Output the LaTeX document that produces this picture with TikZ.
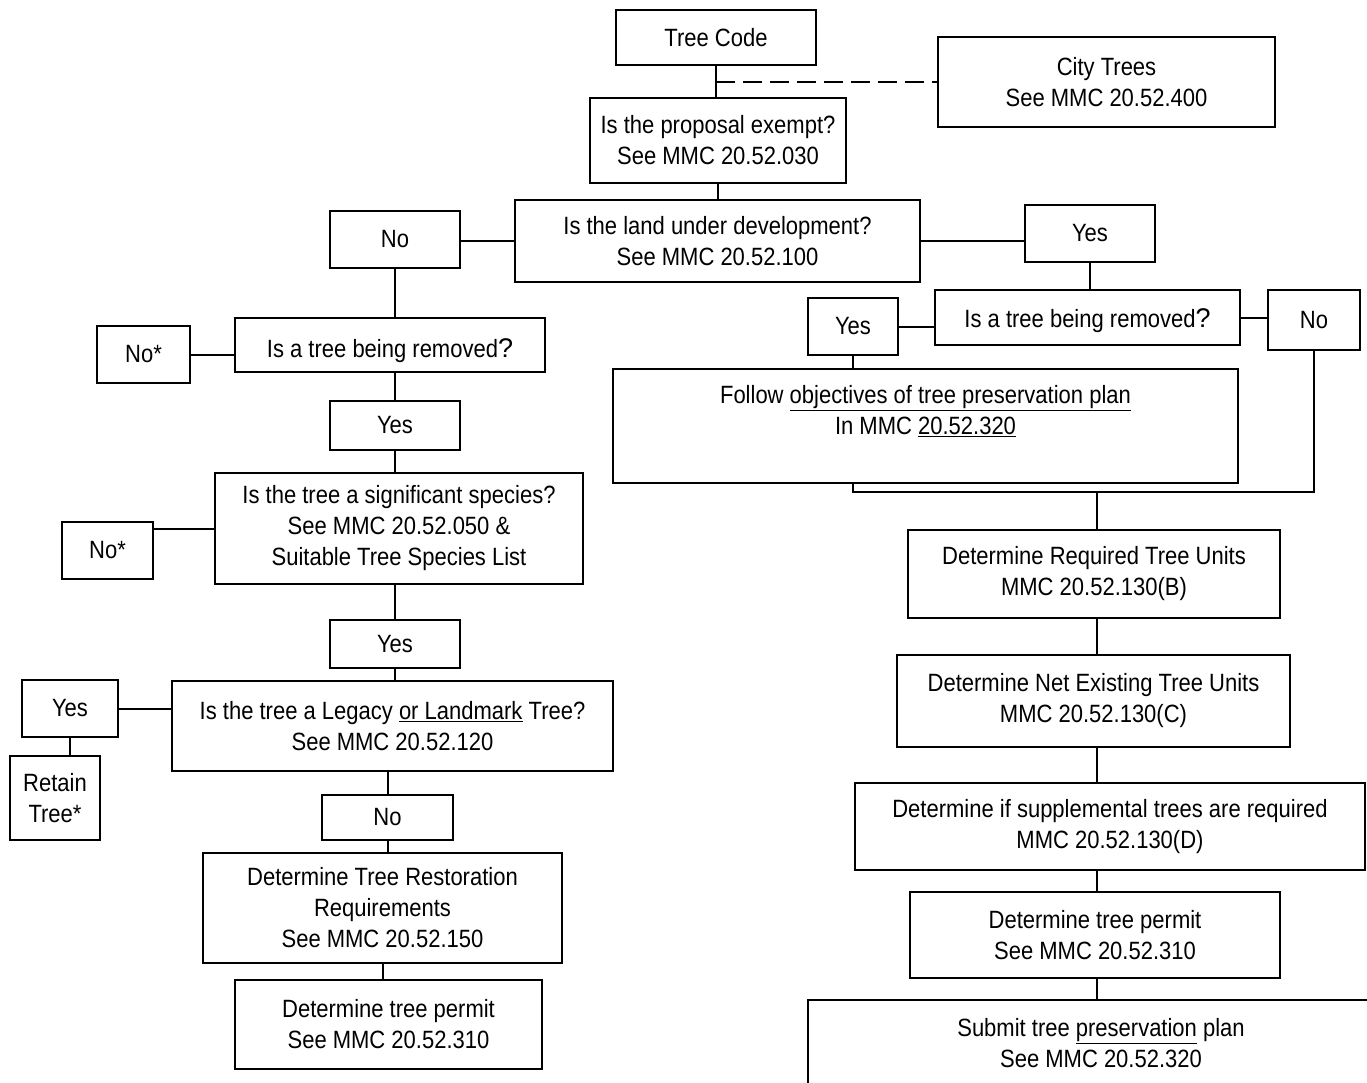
\documentclass[tikz,border=0pt]{standalone}
\usepackage{fontspec}
\setmainfont[FakeStretch=0.88]{Liberation Sans}
\newfontfamily\qmarkfont{Liberation Sans}
% wider question mark used in the "being removed" boxes
\newcommand{\qmk}{{\qmarkfont\fontsize{27}{31}\selectfont ?}}

\begin{document}
\begin{tikzpicture}[x=1pt,y=-1pt]
\tikzset{
  box/.style={draw=black, line width=2pt, inner sep=0pt, align=center,
              font=\fontsize{25}{31}\selectfont},
  txt/.style={inner sep=0pt, align=center, font=\fontsize{25}{31}\selectfont},
  link/.style={line width=2pt},
  dlink/.style={line width=2pt, dash pattern=on 19pt off 8pt},
}
\useasboundingbox (0,0) rectangle (1367,1083);
\clip (0,0) rectangle (1367,1083);

% ---- top of the chart ----
\node[box, minimum width=200, minimum height=55] (tc) at (716,38) {Tree Code};
\node[box, minimum width=337, minimum height=90] (city) at (1106.5,82)
  {City Trees\\See MMC 20.52.400};
\node[box, minimum width=256, minimum height=85] (exempt) at (718,140.5)
  {Is the proposal exempt?\\See MMC 20.52.030};
\node[box, minimum width=405, minimum height=82] (land) at (717.5,241)
  {Is the land under development?\\See MMC 20.52.100};
\node[box, minimum width=130, minimum height=57] (noL) at (395,239.5) {No};
\node[box, minimum width=130, minimum height=57] (yesR) at (1090,233.5) {Yes};

% ---- right branch: land under development ----
\node[box, minimum width=305, minimum height=55] (removeR) at (1087.5,317.5)
  {\raisebox{-3pt}[\height][\depth]{Is a tree being removed\qmk}};
\node[box, minimum width=90, minimum height=57] (yesR2) at (853,326.5) {Yes};
\node[box, minimum width=92, minimum height=60] (noR) at (1314,320) {No};
\node[box, minimum width=625, minimum height=114] (follow) at (925.5,426) {};
\node[txt] (followtxt) at (925.5,411)
  {Follow \underline{objectives of tree preservation plan}\\In MMC \underline{20.52.320}};
\coordinate (jn) at (1097,492);
\node[box, minimum width=372, minimum height=88] (req) at (1094,574)
  {Determine Required Tree Units\\MMC 20.52.130(B)};
\node[box, minimum width=393, minimum height=92] (net) at (1093.5,701)
  {Determine Net Existing Tree Units\\MMC 20.52.130(C)};
\node[box, minimum width=510, minimum height=87] (supp) at (1110,826.5)
  {Determine if supplemental trees are required\\MMC 20.52.130(D)};
\node[box, minimum width=370, minimum height=86] (permitR) at (1095,935)
  {Determine tree permit\\See MMC 20.52.310};
\node[box, minimum width=612, minimum height=110] (submit) at (1114,1055) {};
\node[txt] (submittxt) at (1101,1043)
  {Submit tree \underline{preservation} plan\\See MMC 20.52.320};

% ---- left branch: land not under development ----
\node[box, minimum width=310, minimum height=54] (removeL) at (390,345)
  {\raisebox{-6pt}[\height][\depth]{Is a tree being removed\qmk}};
\node[box, minimum width=93, minimum height=57] (noStarA) at (143.5,354.5) {No*};
\node[box, minimum width=130, minimum height=49] (yesL1) at (395,425.5) {Yes};
\node[box, minimum width=368, minimum height=111] (sig) at (399,528.5)
  {Is the tree a significant species?\\See MMC 20.52.050 \&\\Suitable Tree Species List};
\node[box, minimum width=91, minimum height=57] (noStarB) at (107.5,550.5) {No*};
\node[box, minimum width=130, minimum height=48] (yesL2) at (395,644) {Yes};
\node[box, minimum width=441, minimum height=90] (legacy) at (392.5,726)
  {Is the tree a Legacy \underline{or Landmark} Tree?\\See MMC 20.52.120};
\node[box, minimum width=96, minimum height=57] (yesL3) at (70,708.5) {Yes};
\node[box, minimum width=90, minimum height=84] (retain) at (55,798) {Retain\\Tree*};
\node[box, minimum width=131, minimum height=45] (noL2) at (387.5,817.5) {No};
\node[box, minimum width=359, minimum height=110] (restore) at (382.5,908)
  {Determine Tree Restoration\\Requirements\\See MMC 20.52.150};
\node[box, minimum width=307, minimum height=89] (permitL) at (388.5,1024.5)
  {Determine tree permit\\See MMC 20.52.310};

% ---- connectors ----
\coordinate (dj) at (tc.south |- city.west);
\draw[link] (tc.south) -- (tc.south |- exempt.north);
\draw[dlink] (dj) -- (city.west);
\draw[link] (exempt.south) -- (exempt.south |- land.north);
\draw[link] (land.west) -- (land.west -| noL.east);
\draw[link] (land.east) -- (land.east -| yesR.west);
\draw[link] (yesR.south) -- (yesR.south |- removeR.north);
\draw[link] (yesR2.east) -- (yesR2.east -| removeR.west);
\draw[link] (removeR.east) -- (removeR.east -| noR.west);
\draw[link] (yesR2.south) -- (yesR2.south |- follow.north);
\draw[link] (yesR2.south |- follow.south) |- (noR.south |- jn) -- (noR.south);
\draw[link] (jn) -- (jn |- req.north);
\draw[link] (jn |- req.south) -- (jn |- net.north);
\draw[link] (jn |- net.south) -- (jn |- supp.north);
\draw[link] (jn |- supp.south) -- (jn |- permitR.north);
\draw[link] (jn |- permitR.south) -- (jn |- submit.north);

\draw[link] (noL.south) -- (noL.south |- removeL.north);
\draw[link] (noStarA.east) -- (noStarA.east -| removeL.west);
\draw[link] (yesL1.north) -- (yesL1.north |- removeL.south);
\draw[link] (yesL1.south) -- (yesL1.south |- sig.north);
\draw[link] (sig.west) -- (sig.west -| noStarB.east);
\draw[link] (yesL2.north) -- (yesL2.north |- sig.south);
\draw[link] (yesL2.south) -- (yesL2.south |- legacy.north);
\draw[link] (yesL3.east) -- (yesL3.east -| legacy.west);
\draw[link] (yesL3.south) -- (yesL3.south |- retain.north);
\draw[link] (noL2.north) -- (noL2.north |- legacy.south);
\draw[link] (noL2.south) -- (noL2.south |- restore.north);
\draw[link] (restore.south) -- (restore.south |- permitL.north);
\end{tikzpicture}
\end{document}
